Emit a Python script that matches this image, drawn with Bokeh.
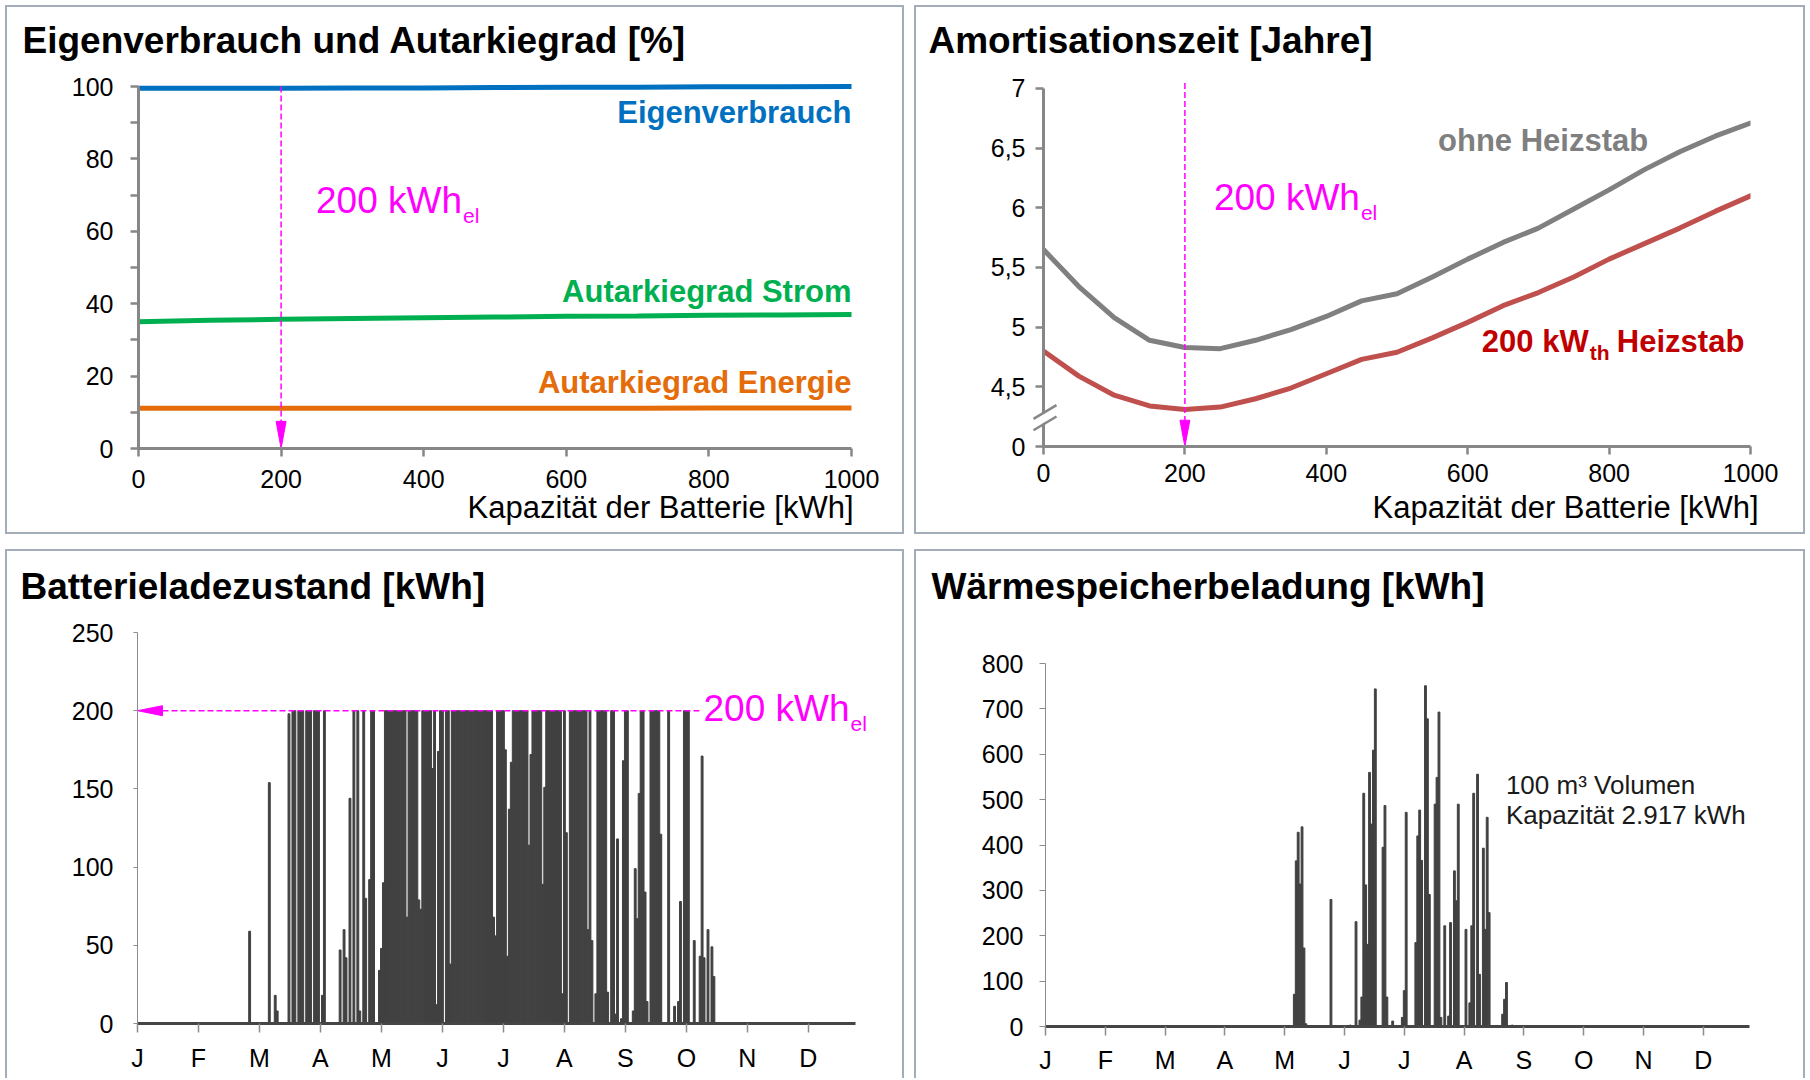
from bokeh.plotting import figure
from bokeh.models import Range1d, FixedTicker, Label
from bokeh.embed import file_html
from bokeh.resources import INLINE

FONT = "Liberation Sans"
MAGENTA = "#ff00ff"
BORDER = "2px solid #a3adb9"
AXIS_GRAY = "#878787"
BASE_FIX = 0.35   # label baseline correction (fraction of font size)

# ---------------- data: panel 1 (Eigenverbrauch / Autarkiegrad) ----------------
cap1 = [0, 100, 200, 300, 400, 500, 600, 700, 800, 900, 1000]
eigenverbrauch = [99.5, 99.5, 99.5, 99.6, 99.6, 99.7, 99.8, 99.8, 99.9, 99.9, 100.0]
autarkie_strom = [35.0, 35.4, 35.7, 35.9, 36.1, 36.3, 36.5, 36.6, 36.8, 36.9, 37.0]
autarkie_energie = [11.1, 11.1, 11.1, 11.1, 11.1, 11.1, 11.1, 11.1, 11.2, 11.2, 11.2]
x1_ticks = [0, 200, 400, 600, 800, 1000]
y1_ticks = [0, 20, 40, 60, 80, 100]
y1_minor = [10, 30, 50, 70, 90]

# ---------------- data: panel 2 (Amortisationszeit) ----------------
cap2 = [0, 50, 100, 150, 200, 250, 300, 350, 400, 450, 500,
        550, 600, 650, 700, 750, 800, 850, 900, 950, 1000]
ohne_heizstab = [5.65, 5.34, 5.08, 4.89, 4.83, 4.82, 4.89, 4.98, 5.09, 5.22, 5.28,
                 5.42, 5.57, 5.71, 5.83, 5.99, 6.15, 6.32, 6.47, 6.60, 6.71]
mit_heizstab = [4.80, 4.59, 4.43, 4.34, 4.31, 4.33, 4.40, 4.49, 4.61, 4.73, 4.79,
                4.91, 5.04, 5.18, 5.29, 5.42, 5.57, 5.70, 5.83, 5.97, 6.10]
x2_ticks = [0, 200, 400, 600, 800, 1000]
y2_ticks = [4.0, 4.5, 5.0, 5.5, 6.0, 6.5, 7.0]
y2_labels = ["0", "4,5", "5", "5,5", "6", "6,5", "7"]

sel_kwh = 200                     # chosen battery size
sel_soc = 200                     # battery capacity line in panel 3

# ---------------- data: panel 3 (Batterieladezustand, daily peaks) ----------------
month_start = [0, 31, 62, 93, 124, 155, 186, 217, 248, 279, 310, 341]
month_labels = ["J", "F", "M", "A", "M", "J", "J", "A", "S", "O", "N", "D"]
year_end = 365

bat_day = [57, 67, 70, 71, 77, 79, 80, 82, 83, 84,
           86, 87, 88, 90, 91, 92, 94, 95, 103, 105,
           106, 108, 110, 112, 113, 115, 116, 118, 119, 120,
           123, 124, 125, 126, 127, 128, 129, 130, 131, 132,
           133, 134, 135, 136, 137, 138, 139, 140, 141, 142,
           143, 144, 145, 146, 147, 148, 149, 150, 151, 152,
           153, 154, 155, 157, 158, 159, 160, 161, 162, 163,
           164, 165, 166, 167, 168, 169, 170, 171, 172, 173,
           174, 175, 176, 177, 178, 179, 180, 181, 182, 183,
           184, 185, 186, 187, 188, 189, 190, 191, 192, 193,
           194, 195, 196, 197, 198, 199, 200, 201, 202, 203,
           204, 205, 206, 207, 208, 209, 210, 211, 212, 213,
           214, 215, 216, 217, 218, 220, 221, 222, 223, 224,
           225, 226, 227, 228, 229, 230, 231, 233, 234, 235,
           236, 237, 238, 239, 241, 242, 243, 244, 246, 247,
           248, 249, 252, 253, 254, 255, 256, 257, 258, 259,
           261, 262, 263, 264, 265, 266, 270, 273, 275, 276,
           278, 279, 280, 283, 286, 287, 288, 290, 292, 293]
bat_soc = [59, 154, 18, 8, 198, 200, 200, 200, 200, 200,
           200, 200, 200, 200, 200, 200, 18, 200, 47, 60,
           42, 144, 200, 200, 8, 200, 80, 92, 200, 200,
           34, 48, 90, 200, 200, 200, 200, 200, 200, 200,
           200, 200, 200, 200, 68, 200, 200, 200, 200, 200,
           79, 73, 200, 200, 200, 200, 200, 163, 200, 12,
           174, 200, 200, 200, 200, 38, 200, 200, 200, 200,
           200, 200, 200, 200, 200, 200, 200, 200, 200, 200,
           200, 200, 200, 200, 200, 200, 200, 68, 56, 200,
           200, 200, 200, 175, 43, 137, 167, 200, 200, 200,
           200, 200, 200, 200, 200, 114, 172, 200, 200, 200,
           200, 200, 89, 151, 200, 200, 200, 200, 200, 200,
           200, 200, 19, 200, 122, 200, 200, 200, 200, 200,
           200, 200, 200, 200, 60, 200, 53, 19, 200, 200,
           200, 200, 200, 20, 200, 200, 6, 118, 3, 168,
           200, 200, 8, 99, 67, 147, 200, 200, 84, 14,
           200, 200, 200, 200, 200, 121, 200, 11, 14, 78,
           200, 200, 200, 53, 43, 171, 42, 60, 49, 30]
y3_ticks = [0, 50, 100, 150, 200, 250]

# ---------------- data: panel 4 (Waermespeicherbeladung, daily peaks) ----------------
th_day = [129, 130, 131, 132, 133, 134, 135, 148, 158, 161,
          163, 164, 165, 166, 167, 168, 169, 170, 171, 175,
          176, 177, 180, 185, 186, 187, 192, 193, 194, 195,
          197, 198, 199, 202, 203, 204, 205, 207, 209, 210,
          212, 213, 214, 218, 220, 221, 222, 224, 225, 227,
          228, 229, 230, 237, 238, 239, 242]
th_load = [71, 365, 428, 314, 440, 173, 6, 280, 3, 231,
           14, 65, 514, 312, 181, 560, 446, 609, 744, 395,
           487, 65, 12, 20, 79, 472, 185, 420, 477, 366,
           751, 678, 291, 490, 549, 693, 20, 222, 23, 229,
           343, 277, 490, 214, 52, 222, 514, 556, 115, 393,
           214, 461, 251, 27, 60, 97, 3]
y4_ticks = [0, 100, 200, 300, 400, 500, 600, 700, 800]


def overrides(ticks, labels):
    d = {}
    for t, l in zip(ticks, labels):
        d[t] = l
        s = repr(float(t))
        if s.endswith(".0"):
            s = s[:-2]
        d[s] = l
    return d


def place(left, top, extra=None):
    st = {"position": "absolute", "left": f"{left}px", "top": f"{top}px"}
    if extra:
        st.update(extra)
    return st


def text_label(x, y, text, size, color="black", style="normal", align="left", dx=0, dy=0):
    return Label(x=x, y=y, x_offset=dx, y_offset=dy + round(BASE_FIX * size), text=text,
                 text_align=align, text_baseline="alphabetic", text_font=FONT,
                 text_font_size=f"{size}px", text_font_style=style, text_color=color)


def make_fig(w, h, xr, yr, mb, styles):
    p = figure(width=w, height=h, x_range=xr, y_range=yr, title=None,
               output_backend="svg", toolbar_location=None,
               min_border_left=mb[0], min_border_right=mb[1],
               min_border_top=mb[2], min_border_bottom=mb[3],
               background_fill_color="white", border_fill_color="white",
               outline_line_color=None)
    p.xgrid.visible = False
    p.ygrid.visible = False
    p.styles = styles
    return p


def overlay_fig(w, h, styles):
    p = figure(width=w, height=h, x_range=Range1d(0, w), y_range=Range1d(0, h),
               title=None, output_backend="svg", toolbar_location=None, min_border=0,
               x_axis_location=None, y_axis_location=None,
               background_fill_color=None, border_fill_color=None,
               outline_line_color=None)
    p.xgrid.visible = False
    p.ygrid.visible = False
    p.styles = styles
    return p


def title_fig(left, top, w, text, tx, baseline):
    h = 66
    t = overlay_fig(w, h, place(left, top))
    t.add_layout(text_label(tx, h - baseline, text, 37, style="bold"))
    return t


def axis_title_fig(left, top, w, text, right_x, baseline):
    h = 50
    t = overlay_fig(w, h, place(left, top))
    t.add_layout(text_label(right_x, h - baseline, text, 31, align="right"))
    return t


def style_axis(ax, line_w, line_c, tick_out, tick_w, tick_c, standoff, size="25px"):
    ax.axis_line_width = line_w
    ax.axis_line_color = line_c
    ax.major_tick_in = 0
    ax.major_tick_out = tick_out
    ax.major_tick_line_width = tick_w
    ax.major_tick_line_color = tick_c
    ax.minor_tick_in = 0
    ax.minor_tick_out = tick_out
    ax.minor_tick_line_width = tick_w
    ax.minor_tick_line_color = tick_c
    ax.major_label_standoff = standoff
    ax.major_label_text_font = FONT
    ax.major_label_text_font_size = size
    ax.major_label_text_color = "black"


def sel_label(p, x, y):
    p.add_layout(text_label(x, y, "200 kWh", 37, color=MAGENTA))
    p.add_layout(text_label(x, y, "el", 21, color=MAGENTA, dx=147, dy=-9))


# ================= Panel 1 =================
p1 = make_fig(899, 529, Range1d(0, 100.83), Range1d(0, 100.83), (131, 55, 76, 88),
              place(5, 5, {"border": BORDER}))
p1.x_range = Range1d(0, 1000)
style_axis(p1.xaxis[0], 3, AXIS_GRAY, 8, 2.5, AXIS_GRAY, 13)
style_axis(p1.yaxis[0], 3, AXIS_GRAY, 8, 2.5, AXIS_GRAY, 17)
p1.xaxis[0].ticker = FixedTicker(ticks=x1_ticks)
p1.yaxis[0].ticker = FixedTicker(ticks=y1_ticks, minor_ticks=y1_minor)
p1.yaxis[0].bounds = (y1_ticks[0], y1_ticks[-1])

p1.line(cap1, eigenverbrauch, line_width=5, color="#0070c0", line_cap="round")
p1.line(cap1, autarkie_strom, line_width=5, color="#00b050", line_cap="round")
p1.line(cap1, autarkie_energie, line_width=5, color="#e46c0a", line_cap="round")
p1.add_layout(text_label(1000, 89.8, "Eigenverbrauch", 31, "#0070c0", "bold", "right"))
p1.add_layout(text_label(1000, 40.3, "Autarkiegrad Strom", 31, "#00b050", "bold", "right"))
p1.add_layout(text_label(1000, 15.2, "Autarkiegrad Energie", 31, "#e46c0a", "bold", "right"))
head1_len, head1_half = 7.5, 7
p1.segment(x0=[sel_kwh], y0=[100], x1=[sel_kwh], y1=[head1_len],
           line_color=MAGENTA, line_width=1.5, line_dash="6 3")
p1.patch([sel_kwh - head1_half, sel_kwh + head1_half, sel_kwh],
         [head1_len, head1_len, 0], color=MAGENTA)
sel_label(p1, 249, 64.9)
t1 = title_fig(7, 7, 899, "Eigenverbrauch und Autarkiegrad [%]", 15, 46)
a1 = axis_title_fig(7, 484, 899, "Kapazität der Batterie [kWh]", 846, 34)

# ================= Panel 2 =================
p2 = make_fig(891, 529, Range1d(0, 1000), Range1d(4.0, 7.05), (127, 57, 75, 90),
              place(914, 5, {"border": BORDER}))
style_axis(p2.xaxis[0], 3, AXIS_GRAY, 8, 2.5, AXIS_GRAY, 9)
style_axis(p2.yaxis[0], 3, AXIS_GRAY, 8, 2.5, AXIS_GRAY, 10)
p2.xaxis[0].ticker = FixedTicker(ticks=x2_ticks)
p2.yaxis[0].ticker = FixedTicker(ticks=y2_ticks)
p2.yaxis[0].bounds = (y2_ticks[0], y2_ticks[-1])
p2.yaxis[0].major_label_overrides = overrides(y2_ticks, y2_labels)

p2.line(cap2, ohne_heizstab, line_width=5, color="#808080", line_cap="round", line_join="round")
p2.line(cap2, mit_heizstab, line_width=5, color="#c0504d", line_cap="round", line_join="round")
p2.add_layout(text_label(558, 6.474, "ohne Heizstab", 31, "#7f7f7f", "bold"))
p2.add_layout(text_label(620, 4.787, "200 kW", 31, "#c00000", "bold"))
p2.add_layout(text_label(620, 4.787, "th", 21, "#c00000", "bold", dx=108, dy=-7))
p2.add_layout(text_label(620, 4.787, "Heizstab", 31, "#c00000", "bold", dx=135))
head2_len, head2_half = 0.22, 7
p2.segment(x0=[sel_kwh], y0=[7.045], x1=[sel_kwh], y1=[4.0 + head2_len],
           line_color=MAGENTA, line_width=1.5, line_dash="6 3")
p2.patch([sel_kwh - head2_half, sel_kwh + head2_half, sel_kwh],
         [4.0 + head2_len, 4.0 + head2_len, 4.0], color=MAGENTA)
sel_label(p2, 241, 5.98)
t2 = title_fig(916, 7, 891, "Amortisationszeit [Jahre]", 12, 46)
a2 = axis_title_fig(916, 484, 891, "Kapazität der Batterie [kWh]", 842, 34)

# axis-break marks drawn in a small transparent overlay over the y-axis of panel 2
brk = overlay_fig(34, 38, place(1028, 398))
brk.patch([5, 28, 28, 5], [8, 21.5, 30, 16.5], color="white")
brk.segment(x0=[5, 5], y0=[6.2, 17.6], x1=[28, 28], y1=[20, 31.4],
            line_color=AXIS_GRAY, line_width=2.5)

# ================= Panel 3 =================
side_border = {"border-top": BORDER, "border-left": BORDER, "border-right": BORDER}
p3 = make_fig(899, 529, Range1d(0, 372.6), Range1d(0, 250), (130, 36, 81, 57),
              place(5, 549, side_border))
style_axis(p3.xaxis[0], 3, "#454545", 9, 1.5, "#8c8c8c", 11)
style_axis(p3.yaxis[0], 1, "#8c8c8c", 4, 1, "#8c8c8c", 20)
p3.xaxis[0].bounds = (0, year_end)
p3.xaxis[0].ticker = FixedTicker(ticks=month_start)
p3.xaxis[0].major_label_overrides = overrides(month_start, month_labels)
p3.yaxis[0].ticker = FixedTicker(ticks=y3_ticks)
p3.vbar(x=bat_day, width=0.95, top=bat_soc, bottom=0, color="#404040")
head3_len, head3_half = 12.7, 3.2
p3.segment(x0=[head3_len], y0=[sel_soc], x1=[286.6], y1=[sel_soc],
           line_color=MAGENTA, line_width=1.5, line_dash="6 3")
p3.patch([0, head3_len, head3_len], [sel_soc, sel_soc + head3_half, sel_soc - head3_half],
         color=MAGENTA)
sel_label(p3, 287.7, 193)
t3 = title_fig(7, 551, 899, "Batterieladezustand [kWh]", 13, 48)

# ================= Panel 4 =================
p4 = make_fig(891, 529, Range1d(0, year_end), Range1d(0, 800), (129, 58, 112, 54),
              place(914, 549, side_border))
style_axis(p4.xaxis[0], 3, "#454545", 9, 1.5, "#8c8c8c", 10)
style_axis(p4.yaxis[0], 1, "#8c8c8c", 6, 1, "#8c8c8c", 16)
p4.xaxis[0].ticker = FixedTicker(ticks=month_start)
p4.xaxis[0].major_label_overrides = overrides(month_start, month_labels)
p4.yaxis[0].ticker = FixedTicker(ticks=y4_ticks)
p4.vbar(x=th_day, width=0.95, top=th_load, bottom=0, color="#404040")
p4.add_layout(text_label(238.7, 513, "100 m³ Volumen", 26, "#1a1a1a"))
p4.add_layout(text_label(238.7, 447, "Kapazität 2.917 kWh", 26, "#1a1a1a"))
t4 = title_fig(916, 551, 891, "Wärmespeicherbeladung [kWh]", 15, 48)

with open("out.html", "w") as f:
    f.write(file_html([p1, p2, p3, p4, t1, t2, t3, t4, a1, a2, brk], INLINE))
